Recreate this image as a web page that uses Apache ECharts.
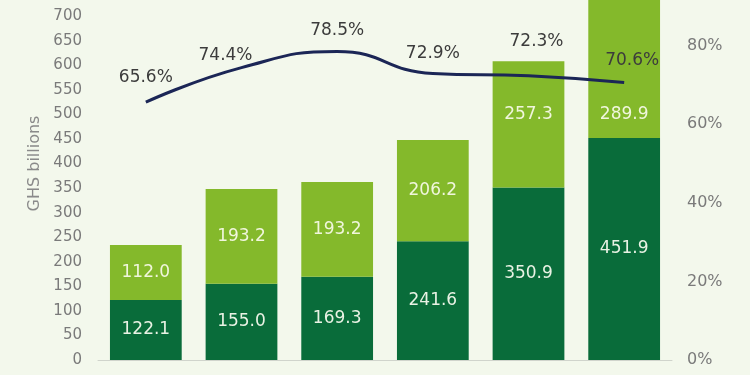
<!DOCTYPE html>
<html><head><meta charset="utf-8">
<script src="https://cdn.jsdelivr.net/npm/echarts@6/dist/echarts.min.js"></script>
<style>html,body{margin:0;padding:0;background:#f3f8ec;overflow:hidden}#wrap{position:relative;width:750px;height:375px;overflow:hidden}#c{position:absolute;left:0;top:-41px;width:750px;height:416px}</style>
</head><body><div id="wrap"><div id="c"></div></div>
<script>
var categories = ['2017','2018','2019','2020','2021','2022'];
var lowerValues = [122.1, 155.0, 169.3, 241.6, 350.9, 451.9];
var upperValues = [112.0, 193.2, 193.2, 206.2, 257.3, 289.9];
var ratioValues = [65.6, 74.4, 78.5, 72.9, 72.3, 70.6];

var ratioLabelOffsets = [[0,-2],[-16,10],[0,2],[0,3],[8,-12],[8,1]];
var upperLabelOffsets = [[0,0],[0,0],[0,0],[0,0],[0,-10],[0,48]];

var font = 'DejaVu Sans';
var chart = echarts.init(document.getElementById('c'));
chart.setOption({
  backgroundColor: '#f3f8ec',
  animation: false,
  grid: {left: 98, right: 78, top: 0, bottom: 15},
  xAxis: {
    type: 'category', data: categories,
    axisLine: {lineStyle: {color: '#d0d4cc', width: 1}},
    axisTick: {show: false},
    axisLabel: {show: false}
  },
  yAxis: [{
    type: 'value', min: 0, max: 800, interval: 50,
    name: 'GHS billions', nameLocation: 'middle', nameGap: 45,
    nameTextStyle: {color: '#8a8a8a', fontFamily: font, fontSize: 16},
    axisLabel: {color: '#7a7a7a', fontFamily: font, fontSize: 15, margin: 16},
    splitLine: {show: false}, axisLine: {show: false}, axisTick: {show: false}
  }, {
    type: 'value', min: 0, max: 100, interval: 20,
    axisLabel: {color: '#7a7a7a', fontFamily: font, fontSize: 16, margin: 15, formatter: '{value}%'},
    splitLine: {show: false}, axisLine: {show: false}, axisTick: {show: false}
  }],
  series: [{
    type: 'bar', stack: 'debt', name: 'Lower', barWidth: '75%',
    data: lowerValues,
    itemStyle: {color: '#096c3a'},
    label: {show: true, position: 'inside', color: '#e9f2e4', fontFamily: font, fontSize: 17,
      formatter: function(p){return p.value.toFixed(1);}}
  }, {
    type: 'bar', stack: 'debt', name: 'Upper',
    data: upperValues.map(function(v, i){return {value: v, label: {offset: upperLabelOffsets[i]}};}),
    itemStyle: {color: '#84b92b'},
    label: {show: true, position: 'inside', color: '#f0f6dc', fontFamily: font, fontSize: 17,
      formatter: function(p){return p.value.toFixed(1);}}
  }, {
    type: 'line', name: 'Ratio', yAxisIndex: 1, smooth: true,
    symbol: 'circle', symbolSize: 0, showSymbol: true,
    itemStyle: {color: '#1b2656'},
    data: ratioValues.map(function(v, i){return {value: v, label: {offset: ratioLabelOffsets[i]}};}),
    lineStyle: {color: '#1b2656', width: 3},
    label: {show: true, position: 'top', distance: 14, color: '#3c3c3c', fontFamily: font, fontSize: 17,
      formatter: function(p){return p.value.toFixed(1) + '%';}},
    z: 5
  }]
});
</script></body></html>
